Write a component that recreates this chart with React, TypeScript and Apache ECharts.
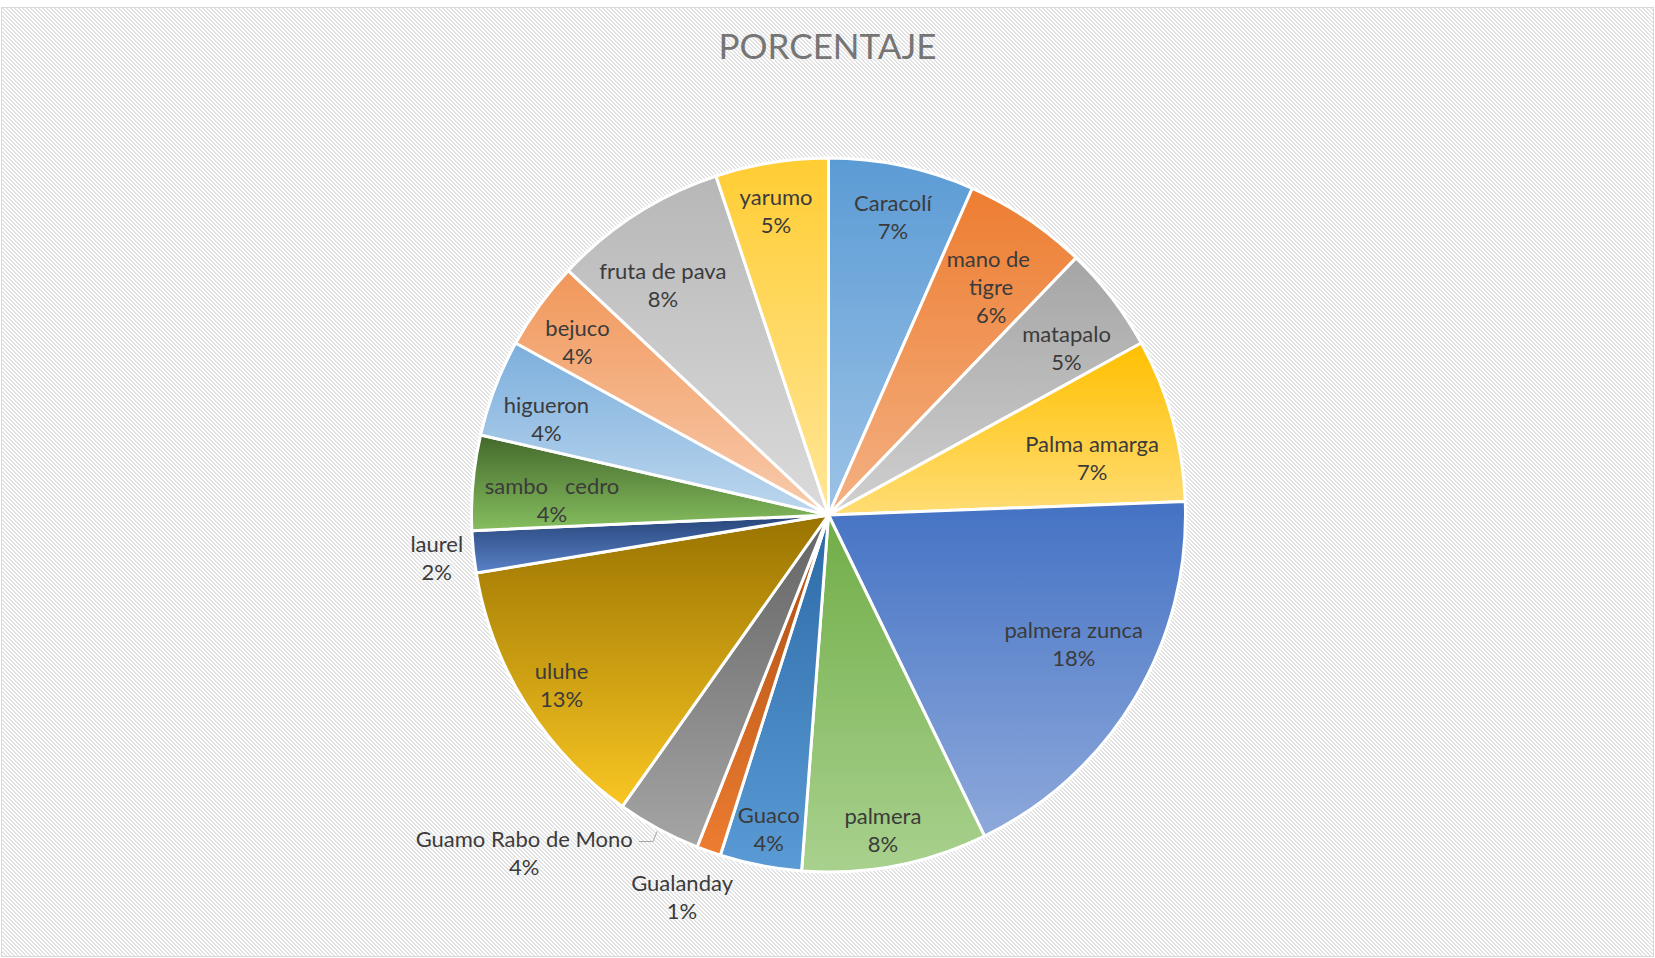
import React, { useEffect, useRef } from 'react';
import * as echarts from 'echarts';

const chartTitle = 'PORCENTAJE';

const categories = [
  'Caracolí',
  'mano de tigre',
  'matapalo',
  'Palma amarga',
  'palmera zunca',
  'palmera',
  'Guaco',
  'Gualanday',
  'Guamo Rabo de Mono',
  'uluhe',
  'laurel',
  'sambo   cedro',
  'higueron',
  'bejuco',
  'fruta de pava',
  'yarumo',
];

const values = [6.6, 5.6, 4.8, 7.4, 18.4, 8.4, 3.7, 1.1, 3.8, 12.6, 1.9, 4.3, 4.4, 4.0, 7.9, 5.1];

// styles (gradient top / bottom colours per slice)
const topColors = [
  '#5B9BD5', '#ED7D31', '#A5A5A5', '#FFC000', '#4472C4', '#70AD47',
  '#2B6AA6', '#A84C10', '#636363', '#997300', '#264478', '#43682B',
  '#7CAFDD', '#F1975A', '#B7B7B7', '#FFCD33',
];
const bottomColors = [
  '#9DC3E6', '#F4B183', '#D0D0D0', '#FFDD75', '#8EA9DB', '#A9D18E',
  '#5B9BD5', '#ED7D31', '#A5A5A5', '#F9C623', '#5A82C8', '#86BE5F',
  '#BDD7EE', '#F8CBAD', '#DBDBDB', '#FFE699',
];

// label placement (angle shift in degrees, radius as fraction of pie radius)
const labelAngleShift = [0.3, 1.6, 2.3, 3.2, -3.3, 1.0, -0.2, 1.4, 13.6, -0.3, -0.3, -2.1, -2.0, -1.3, -3.1, -0.6];
const labelRadius = [0.86, 0.79, 0.82, 0.76, 0.78, 0.9, 0.9, 1.15, 1.28, 0.89, 1.11, 0.78, 0.84, 0.86, 0.8, 0.87];

const CX = 828.5;
const CY = 515;
const R = 357;
const LINE_H = 28;
const FONT = 'Lato, "Open Sans", sans-serif';

const hatch =
  "url(\"data:image/svg+xml;utf8,<svg xmlns='http://www.w3.org/2000/svg' width='4' height='4' shape-rendering='crispEdges'>" +
  "<rect width='4' height='4' fill='%23ffffff'/>" +
  "<rect x='0' y='0' width='2' height='1' fill='%23e3e3e3'/>" +
  "<rect x='1' y='1' width='2' height='1' fill='%23e3e3e3'/>" +
  "<rect x='2' y='2' width='2' height='1' fill='%23e3e3e3'/>" +
  "<rect x='3' y='3' width='1' height='1' fill='%23e3e3e3'/>" +
  "<rect x='0' y='3' width='1' height='1' fill='%23e3e3e3'/>" +
  "</svg>\")";

export default function App() {
  const ref = useRef<HTMLDivElement>(null);

  useEffect(() => {
    if (!ref.current) return;
    const chart = echarts.init(ref.current, null, { renderer: 'svg' });
    const total = values.reduce((a, b) => a + b, 0);
    const starts: number[] = [];
    let acc = 0;
    values.forEach((v) => {
      starts.push(acc);
      acc += v;
    });

    const data = categories.map((name, i) => {
      const item: any = {
        name,
        value: values[i],
        itemStyle: {
          color: {
            type: 'linear',
            x: 0,
            y: 0,
            x2: 0,
            y2: 1,
            colorStops: [
              { offset: 0, color: topColors[i] },
              { offset: 1, color: bottomColors[i] },
            ],
          },
        },
      };
      if (name === 'mano de tigre') {
        item.label = { width: 90, overflow: 'break' };
      }
      if (name === 'Guamo Rabo de Mono') {
        item.label = { position: 'outside' };
        item.labelLine = { show: true, length: 10, length2: 10, lineStyle: { color: '#A6A6A6', width: 1 } };
      }
      return item;
    });

    chart.setOption({
      animation: false,
      title: {
        text: chartTitle,
        left: 'center',
        top: 22,
        textStyle: {
          fontFamily: FONT,
          fontSize: 35,
          fontWeight: 'normal',
          color: '#757575',
        },
      },
      series: [
        {
          type: 'pie',
          center: [CX, CY],
          radius: [0, R],
          startAngle: 90,
          clockwise: true,
          avoidLabelOverlap: false,
          percentPrecision: 2,
          itemStyle: { borderColor: '#ffffff', borderWidth: 3 },
          label: {
            show: true,
            position: 'inside',
            fontFamily: FONT,
            fontSize: 22,
            lineHeight: LINE_H,
            color: '#3B3B3B',
            align: 'center',
            formatter: (p: any) => `${p.name}\n${Math.round(p.percent)}%`,
          },
          labelLine: { show: false },
          emphasis: { disabled: true },
          labelLayout: (p: any) => {
            const i = p.dataIndex;
            const midDeg = ((starts[i] + values[i] / 2) / total) * 360;
            const a = ((midDeg + labelAngleShift[i]) * Math.PI) / 180;
            const r = 355 * labelRadius[i];
            const x = CX + r * Math.sin(a);
            const y = CY - r * Math.cos(a);
            const res: any = { x, y, align: 'center', verticalAlign: 'middle', hideOverlap: false };
            if (categories[i] === 'Guamo Rabo de Mono') {
              const w = p.labelRect.width;
              const lineY = y - 11;
              const ma = (midDeg * Math.PI) / 180;
              const ex = CX + (R + 3) * Math.sin(ma);
              const ey = CY - (R + 3) * Math.cos(ma);
              res.labelLinePoints = [
                [x + w / 2 + 6, lineY],
                [ex - 4, lineY],
                [ex, ey],
              ];
            }
            return res;
          },
          data,
        },
      ],
    });
    return () => chart.dispose();
  }, []);

  return (
    <div style={{ position: 'fixed', left: 0, top: 0, width: 1655, height: 958, background: '#ffffff' }}>
      <div
        style={{
          position: 'absolute',
          left: 1,
          top: 7,
          width: 1653,
          height: 950,
          boxSizing: 'border-box',
          border: '1px solid #d9d9d9',
          backgroundImage: hatch,
          backgroundRepeat: 'repeat',
        }}
      />
      <div ref={ref} style={{ position: 'absolute', left: 0, top: 0, width: 1655, height: 958 }} />
    </div>
  );
}
